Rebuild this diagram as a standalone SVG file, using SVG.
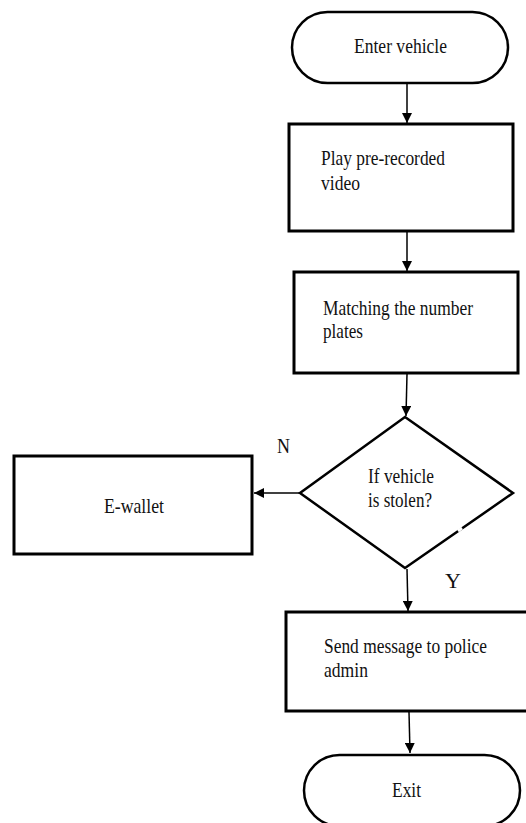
<svg xmlns="http://www.w3.org/2000/svg" width="526" height="823" viewBox="0 0 526 823">
<defs>
<style>
.box{fill:#fff;stroke:#000;stroke-width:3}
.term{fill:#fff;stroke:#000;stroke-width:2.5}
.dia{fill:#fff;stroke:#000;stroke-width:2.5;stroke-linejoin:miter}
.con{fill:none;stroke:#000;stroke-width:1.5}
text{font-family:"Liberation Serif","Times New Roman",serif;font-size:21px;fill:#111}
</style>
<marker id="arr" viewBox="0 0 10 10" refX="10" refY="5" markerWidth="10" markerHeight="10" markerUnits="userSpaceOnUse" orient="auto">
<path d="M0,0 L10,5 L0,10 Z" fill="#000"/>
</marker>
</defs>
<rect width="526" height="823" fill="#fff"/>
<g id="connectors">
<line class="con" x1="407" y1="84" x2="407" y2="123" marker-end="url(#arr)"/>
<line class="con" x1="407" y1="232" x2="407" y2="271" marker-end="url(#arr)"/>
<line class="con" x1="407" y1="374" x2="406" y2="416" marker-end="url(#arr)"/>
<line class="con" x1="300" y1="493" x2="254" y2="493" marker-end="url(#arr)"/>
<line class="con" x1="407" y1="569" x2="408" y2="611" marker-end="url(#arr)"/>
<line class="con" x1="409" y1="712" x2="410" y2="753" marker-end="url(#arr)"/>
</g>
<g id="start">
<rect class="term" x="292" y="12" width="216" height="71" rx="35.5"/>
<text x="354" y="53" textLength="93" lengthAdjust="spacingAndGlyphs">Enter vehicle</text>
</g>
<g id="play">
<rect class="box" x="289" y="124" width="224" height="107"/>
<text x="321" y="165" textLength="124" lengthAdjust="spacingAndGlyphs">Play pre-recorded</text>
<text x="321" y="190" textLength="39" lengthAdjust="spacingAndGlyphs">video</text>
</g>
<g id="match">
<rect class="box" x="294" y="272" width="224" height="101"/>
<text x="323" y="315" textLength="150" lengthAdjust="spacingAndGlyphs">Matching the number</text>
<text x="323" y="338" textLength="40" lengthAdjust="spacingAndGlyphs">plates</text>
</g>
<g id="decision">
<polygon class="dia" points="405,417 513,493 405,568 300,493"/>
<line x1="458" y1="531" x2="462" y2="528" stroke="#fff" stroke-width="3"/>
<text x="368" y="483" textLength="66" lengthAdjust="spacingAndGlyphs">If vehicle</text>
<text x="368" y="507" textLength="64" lengthAdjust="spacingAndGlyphs">is stolen?</text>
</g>
<g id="ewallet">
<rect class="box" x="14" y="456" width="238" height="98"/>
<text x="104" y="513" textLength="60" lengthAdjust="spacingAndGlyphs">E-wallet</text>
</g>
<g id="labels">
<text x="277" y="453" textLength="13" lengthAdjust="spacingAndGlyphs">N</text>
<text x="445" y="588" textLength="16" lengthAdjust="spacingAndGlyphs">Y</text>
</g>
<g id="send">
<rect class="box" x="286" y="612" width="245" height="99"/>
<text x="324" y="653" textLength="163" lengthAdjust="spacingAndGlyphs">Send message to police</text>
<text x="324" y="677" textLength="44" lengthAdjust="spacingAndGlyphs">admin</text>
</g>
<g id="exit">
<rect class="term" x="304" y="755" width="216" height="71" rx="35.5"/>
<text x="392" y="797" textLength="29" lengthAdjust="spacingAndGlyphs">Exit</text>
</g>
</svg>
